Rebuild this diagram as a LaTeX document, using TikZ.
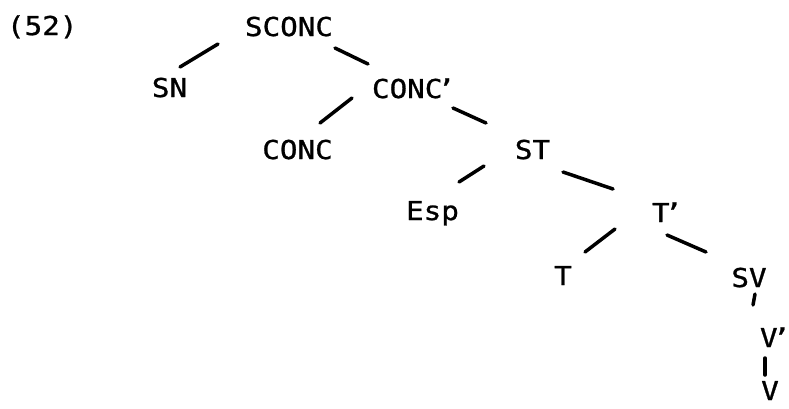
\documentclass[tikz,border=0pt]{standalone}
\usepackage{fontspec}
\newfontfamily\dotfont[FakeStretch=1.125,FakeBold=1]{DejaVu Sans Mono}
\usetikzlibrary{calc}
\newcommand\apo{\kern-5pt’}
\begin{document}
\begin{tikzpicture}[x=1pt,y=-1pt,
  lab/.style={inner sep=0pt,outer sep=0pt,font=\dotfont\fontsize{26}{26}\selectfont},
  br/.style={line width=3.5pt,line cap=round}]
\useasboundingbox[fill=white] (0,0) rectangle (789,408);
\node[lab,anchor=base west] (num) at (7,35) {(52)};
\node[lab,anchor=base] (sconc) at (289,36) {SCONC};
\node[lab,anchor=base] (sn) at (169.5,97) {SN};
\node[lab,anchor=base west] (concp) at (372,98) {CONC\apo};
\node[lab,anchor=base] (conc) at (297.5,159) {CONC};
\node[lab,anchor=base] (st) at (532.5,159) {ST};
\node[lab,anchor=base] (esp) at (432.5,220) {Esp};
\node[lab,anchor=base west] (tp) at (652,222) {T\apo};
\node[lab,anchor=base] (t) at (563,285) {T};
\node[lab,anchor=base] (sv) at (749,287) {SV};
\node[lab,anchor=base west] (vp) at (760,347) {V\apo};
\node[lab,anchor=base] (v) at (770,400) {V};
\draw[br] ($(sconc.base)+(-71,8)$) -- ($(sn.base)+(10.5,-30)$);
\draw[br] ($(sconc.base)+(46,12)$) -- ($(concp.base west)+(-4,-34)$);
\draw[br] ($(concp.base west)+(-20,0)$) -- ($(conc.base)+(22.5,-36)$);
\draw[br] ($(concp.base west)+(81,10)$) -- ($(st.base)+(-46.5,-36)$);
\draw[br] ($(st.base)+(-48.5,7)$) -- ($(esp.base)+(26.5,-38)$);
\draw[br] ($(st.base)+(30.5,13)$) -- ($(tp.base west)+(-39,-33)$);
\draw[br] ($(tp.base west)+(-37,7)$) -- ($(t.base)+(22,-33)$);
\draw[br] ($(tp.base west)+(15,13)$) -- ($(sv.base)+(-43,-35)$);
\draw[br] ($(sv.base)+(6,7)$) -- ($(vp.base west)+(-7,-42)$);
\draw[br] ($(vp.base west)+(5,11)$) -- ($(v.base)+(-5,-25)$);
\end{tikzpicture}
\end{document}
